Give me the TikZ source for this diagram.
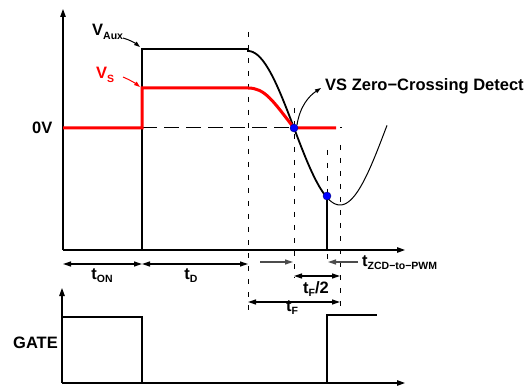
\documentclass[tikz,border=0pt]{standalone}
\usepackage{fontspec}
\setmainfont{Liberation Sans}
\usetikzlibrary{arrows.meta}
\newcommand{\lsub}[1]{\raisebox{-3.2pt}{\fontsize{10.5}{10.5}\selectfont #1}}
\tikzset{
  lbl/.style={font=\bfseries\fontsize{16.5}{18}\selectfont, inner sep=0pt},
  axis/.style={line width=1.2pt, -{Triangle[length=8pt,width=5.5pt]}},
  wave/.style={line width=1.8pt, line join=miter},
  redwave/.style={line width=3pt, red, line join=miter},
  vdash/.style={line width=1pt, dash pattern=on 5pt off 8pt},
  hdash/.style={line width=1pt, dash pattern=on 15pt off 7pt},
  dim/.style={line width=1.2pt, {Triangle[length=8pt,width=5pt]}-{Triangle[length=8pt,width=5pt]}},
  pt/.style={line width=1.2pt, gray!60!black, -{Triangle[length=8pt,width=5pt]}},
  dot/.style={circle, fill=blue, draw=blue!50!black, inner sep=0pt, minimum size=8pt},
}
\begin{document}
\begin{tikzpicture}[x=1pt,y=-1pt]
\useasboundingbox (0,0) rectangle (532,387);
% key coordinates
\coordinate (o) at (63,250);
\coordinate (ytop) at (63,9);
\coordinate (xend) at (405,250);
\coordinate (go) at (62,383);
\coordinate (gytop) at (62,288);
\coordinate (gxend) at (405,383);

% dashed verticals
\draw[vdash] (248,32) -- (248,312);
\draw[vdash] (294,108) -- (294,278);
\draw[vdash] (327,150) -- (327,265);
\draw[vdash] (340,145) -- (340,308);
% dashed 0V line
\draw[hdash] (142,128) -- (342,128);

% axes
\draw[axis] (o) -- (ytop);
\draw[axis] (o) -- (xend);
\draw[axis] (go) -- (gytop);
\draw[axis] (go) -- (gxend);

% V_Aux waveform
\draw[wave] (142,250) -- (142,49) -- (248,49)
  -- plot[domain=248:327, samples=50] (\x, {128-77*cos((\x-248)/92*180)});
\draw[line width=1pt] plot[domain=327:387, samples=40] (\x, {128-77*cos((\x-248)/92*180)});
\draw[wave] (327,196) -- (327,250);

% V_S waveform
\draw[redwave] (63,128) -- (142,128) -- (142,88) -- (248,88)
  .. controls (265,88) and (273,101) .. (294,128) -- (336,128);

% dots
\node[dot] (zcd) at (294,128) {};
\node[dot] (pwm) at (327,196) {};

% labels top
\node[lbl, anchor=base west] (zero) at (32,134) {0V};
\node[lbl, anchor=base west] (vaux) at (92,36) {V\lsub{Aux}};
\node[lbl, anchor=base west, red] (vs) at (96,79) {V\lsub{S}};
\coordinate (vauxend) at (140,47);
\coordinate (vsend) at (140,87);
\draw[line width=1pt, -{Triangle[length=6pt,width=4pt]}] (123,38) .. controls (130,40) and (135,43) .. (vauxend);
\draw[line width=1pt, red, -{Triangle[length=6pt,width=4pt]}] (123,77) .. controls (130,80) and (135,83) .. (vsend);
\node[lbl, anchor=west] (zcdlbl) at (325,86) {VS Zero\textminus Crossing Detect};
\draw[line width=1pt, -{Triangle[length=6pt,width=4pt]}] (zcd.north east) .. controls (300,106) and (309,96) .. (321,88);

% timing dimensions
\coordinate (a1) at (63,264);
\coordinate (a2) at (142,264);
\coordinate (a3) at (248,264);
\draw[dim] (a1) -- (a2);
\draw[dim] (a2) -- (a3);
\node[lbl, anchor=base] (ton) at (102,279) {t\lsub{ON}};
\node[lbl, anchor=base] (td) at (191,279) {t\lsub{D}};

\draw[pt] (260,262) -- (293,262);
\draw[pt] (358,262) -- (328,262);
\node[lbl, anchor=base west] (tz) at (362,266) {t\lsub{ZCD\textminus to\textminus PWM}};

\draw[dim] (294,276) -- (340,276);
\node[lbl, anchor=base] (tf2) at (316,293) {t\lsub{F}/2};
\draw[dim] (248,302) -- (340,302);
\node[lbl, anchor=base] (tf) at (292,311) {t\lsub{F}};

% gate
\draw[line width=1.5pt] (62,317) -- (142,317) -- (142,383);
\draw[line width=1.5pt] (327,383) -- (327,315) -- (377,315);
\node[lbl, anchor=base west] (gate) at (13,348) {GATE};
\end{tikzpicture}
\end{document}
